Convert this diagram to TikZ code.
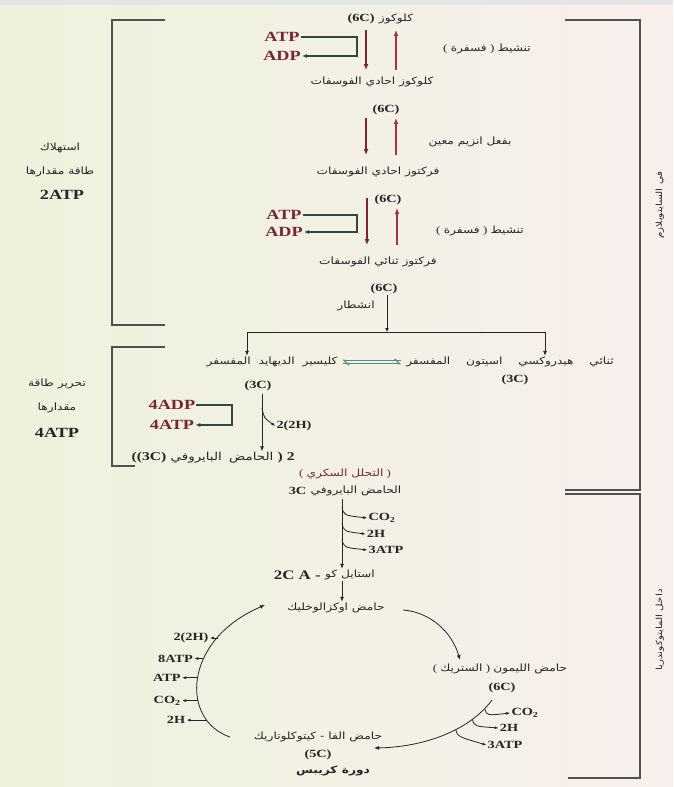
\documentclass[tikz,border=0pt]{standalone}
\usepackage{fontspec}
\setmainfont{Liberation Serif}[FakeStretch=1.3]
\newfontfamily\arabicfont[Script=Arabic,FakeStretch=1.22]{DejaVu Sans}
\TeXXeTstate=1
\usetikzlibrary{arrows.meta,positioning,calc}
\definecolor{ink}{HTML}{262626}
\definecolor{atpred}{HTML}{7A2434}
\definecolor{uparr}{HTML}{A5343F}
\definecolor{brkgrn}{HTML}{2E4A3C}
\definecolor{eqteal}{HTML}{4F8F7C}
\definecolor{bgleft}{HTML}{EDF2DC}
\definecolor{bgright}{HTML}{F8EFEC}
\newcommand{\artx}[1]{{\arabicfont\beginR #1\endR}}
\tikzset{
  ar/.style={font=\fontsize{10}{12}\selectfont, inner sep=1pt, text=ink},
  en/.style={font=\fontsize{14}{15}\selectfont\bfseries, inner sep=1pt, text=atpred},
  cc/.style={font=\fontsize{11}{12}\selectfont\bfseries, inner sep=1pt, text=ink},
  sm/.style={font=\fontsize{11}{12}\selectfont\bfseries, inner sep=1pt, text=ink},
  dn/.style={draw=atpred, line width=1.5pt, -{Latex[length=6pt,width=5pt]}},
  upa/.style={draw=uparr, line width=1.5pt, -{Latex[length=6pt,width=5pt]}},
  xch/.style={draw=brkgrn, line width=1.3pt, -{Latex[length=5pt,width=4pt]}},
  ln/.style={draw=ink, line width=0.8pt},
  tk/.style={ln, -{Latex[length=4pt,width=3pt]}},
  bkt/.style={draw=ink!80, line width=1.3pt}
}
\begin{document}
\begin{tikzpicture}[x=1pt,y=-1pt]
\useasboundingbox (0,0) rectangle (673,787);
\shade[left color=bgleft, right color=bgright] (0,0) rectangle (673,787);
\fill[black!10] (0,0) rectangle (673,5);

% brackets
\draw[bkt] (165,20) -- (112,20) -- (112,325) -- (165,325);
\draw[bkt] (165,347) -- (112,347) -- (112,466) -- (135,466);
\draw[bkt] (565,20) -- (640,20) -- (640,490) -- (565,490);
\draw[bkt] (565,494) -- (640,494) -- (640,778) -- (568,778);

% side labels
\node[ar] (use1) at (60,148) {\artx{استهلاك}};
\node[ar] (use2) at (60,172) {\artx{طاقة مقدارها}};
\node[en,text=ink] (use3) at (62,195) {2ATP};
\node[ar] (rel1) at (57,384) {\artx{تحرير طاقة}};
\node[ar] (rel2) at (57,408) {\artx{مقدارها}};
\node[en,text=ink] (rel3) at (57,433) {4ATP};
\node[ar,font=\fontsize{8.5}{10}\selectfont,rotate=90] (cyto) at (660,205) {\artx{في السايتوبلازم}};
\node[ar,font=\fontsize{8.5}{10}\selectfont,rotate=90] (mito) at (660,630) {\artx{داخل المايتوكوندريا}};

% glucose -> fructose bisphosphate
\node[ar] (glc) at (396,19) {\artx{كلوكوز}};
\node[cc,left=2pt of glc] (c1) {(6C)};
\node[en] (atp1) at (282,37) {ATP};
\node[en] (adp1) at (282,56) {ADP};
\coordinate (k1) at (357,37);
\draw[xch] (atp1.east) -| (k1) |- (adp1.east);
\coordinate (d1a) at (366,30); \coordinate (d1b) at (366,70);
\coordinate (u1a) at (396,70); \coordinate (u1b) at (396,30);
\draw[dn] (d1a) -- (d1b);
\draw[upa] (u1a) -- (u1b);
\node[ar] (act1) at (487,49) {( \artx{فسفرة} ) \artx{تنشيط}};
\node[ar] (g6p) at (372,82) {\artx{كلوكوز احادي الفوسفات}};

\node[cc] (c2) at (386,110) {(6C)};
\coordinate (d2a) at (366,118); \coordinate (d2b) at (366,155);
\coordinate (u2a) at (396,155); \coordinate (u2b) at (396,118);
\draw[dn] (d2a) -- (d2b);
\draw[upa] (u2a) -- (u2b);
\node[ar] (enz) at (470,142) {\artx{بفعل انزيم معين}};
\node[ar] (f6p) at (378,172) {\artx{فركتوز احادي الفوسفات}};

\node[cc] (c3) at (388,200) {(6C)};
\node[en] (atp2) at (284,215) {ATP};
\node[en] (adp2) at (284,232) {ADP};
\coordinate (k2) at (357,215);
\draw[xch] (atp2.east) -| (k2) |- (adp2.east);
\coordinate (d3a) at (367,198); \coordinate (d3b) at (367,245);
\coordinate (u3a) at (397,245); \coordinate (u3b) at (397,208);
\draw[dn] (d3a) -- (d3b);
\draw[upa] (u3a) -- (u3b);
\node[ar] (act2) at (480,231) {( \artx{فسفرة} ) \artx{تنشيط}};
\node[ar] (fbp) at (378,262) {\artx{فركتوز ثنائي الفوسفات}};

% splitting
\node[cc] (c4) at (384,289) {(6C)};
\node[ar] (split) at (356,306) {\artx{انشطار}};
\coordinate (sp) at (387,332);
\coordinate (hl) at (247,332);
\coordinate (hr) at (545,332);
\draw[ln,-{Latex[length=4pt,width=4pt]}] (c4.south -| sp) -- (sp);
\draw[ln] (hl) -- (hr);
\node[ar] (gal) at (272,362) {\artx{كليسير\hspace{4pt} الديهايد\hspace{4pt} المفسفر}};
\node[ar] (dhap) at (510,362) {\artx{ثنائي\hspace{12pt} هيدروكسي\hspace{12pt} اسيتون\hspace{12pt} المفسفر}};
\draw[ln,-{Latex[length=5pt,width=4pt]}] (hl) -- (gal.north -| hl);
\draw[ln,-{Latex[length=5pt,width=4pt]}] (hr) -- (dhap.north -| hr);
\draw[draw=eqteal,line width=1.2pt,shorten <=4pt,shorten >=4pt,-{Straight Barb[left,length=5pt]}] ([yshift=-1.8pt]gal.east) -- ([yshift=-1.8pt]dhap.west);
\draw[draw=eqteal,line width=1.2pt,shorten <=4pt,shorten >=4pt,-{Straight Barb[left,length=5pt]}] ([yshift=1.8pt]dhap.west) -- ([yshift=1.8pt]gal.east);
\node[cc] (c5) at (515,380) {(3C)};

% glyceraldehyde -> pyruvate
\node[cc] (c6) at (258,386) {(3C)};
\node[ar,font=\fontsize{11}{12}\selectfont] (pyr) at (222,458) {\artx{الحامض\hspace{3pt} البايروفي}};
\node[cc,font=\fontsize{12}{13}\selectfont\bfseries,left=2pt of pyr] (pyrL) {((3C)};
\node[cc,font=\fontsize{12}{13}\selectfont\bfseries,right=2pt of pyr] (pyrR) {) 2};
\coordinate (v3) at (262,394);
\coordinate (b3) at (262,408);
\draw[ln,-{Latex[length=5pt,width=4pt]}] (v3) -- (pyr.north -| v3);
\node[sm] (h2a) at (294,426) {2(2H)};
\draw[tk] (b3) .. controls +(2,10) .. (h2a.west);
\node[en] (adp3) at (172,405) {4ADP};
\node[en] (atp3) at (172,425) {4ATP};
\coordinate (k3) at (232,405);
\draw[xch] (adp3.east) -| (k3) |- (atp3.east);

% mitochondria
\node[ar,text=atpred] (glyc) at (345,474) {( \artx{التحلل السكري} )};
\node[ar] (pyr2) at (356,491) {\artx{الحامض البايروفي}};
\node[cc,left=2pt of pyr2] (p3c) {3C};
\node[ar] (acoa) at (350,575) {\artx{استايل كو}};
\node[cc,font=\fontsize{13}{14}\selectfont\bfseries,left=2pt of acoa] (acoaL) {2C A -};
\coordinate (vp) at (342,499);
\draw[ln,-{Latex[length=5pt,width=4pt]}] (vp) -- (acoa.north -| vp)
  coordinate[pos=0.12] (q1) coordinate[pos=0.35] (q2) coordinate[pos=0.58] (q3);
\node[sm] (co2a) at (382,518) {CO\textsubscript{2}};
\node[sm] (h2b) at (376,534) {2H};
\node[sm] (atp4) at (386,550) {3ATP};
\draw[tk] (q1) .. controls +(2,8) .. (co2a.west);
\draw[tk] (q2) .. controls +(2,8) .. (h2b.west);
\draw[tk] (q3) .. controls +(2,8) .. (atp4.west);
\node[ar] (oxa) at (336,608) {\artx{حامض اوكزالوخليك}};
\draw[ln,-{Latex[length=5pt,width=4pt]}] (acoa.south -| vp) -- (oxa.north -| vp);

% Krebs cycle
\node[ar] (cit) at (500,669) {( \artx{الستريك} ) \artx{حامض الليمون}};
\node[cc] (c7) at (502,688) {(6C)};
\node[ar] (akg) at (318,737) {\artx{حامض الفا - كيتوكلوتاريك}};
\node[cc] (c8) at (318,755) {(5C)};
\node[ar,font=\fontsize{10}{11}\selectfont\bfseries] (krebs) at (333,771) {\artx{دورة كريبس}};
\coordinate (kr0) at (403,610); \coordinate (kr1) at (460,660);
\draw[ln,-{Latex[length=5pt,width=4pt]}] (kr0) .. controls (430,612) and (452,632) .. (kr1);
\coordinate (kb0) at (492,700); \coordinate (kb1) at (374,748);
\draw[ln,-{Latex[length=5pt,width=4pt]}] (kb0) .. controls (470,730) and (425,747) .. (kb1)
  coordinate[pos=0.1] (bt1) coordinate[pos=0.24] (bt2) coordinate[pos=0.4] (bt3);
\node[sm] (co2b) at (525,713) {CO\textsubscript{2}};
\node[sm] (h2c) at (509,728) {2H};
\node[sm] (atp5) at (505,745) {3ATP};
\draw[tk] (bt1) .. controls +(2,7) .. (co2b.west);
\draw[tk] (bt2) .. controls +(2,7) .. (h2c.west);
\draw[tk] (bt3) .. controls +(2,7) .. (atp5.west);
\coordinate (kl0) at (230,737); \coordinate (kl1) at (265,605);
\draw[ln,-{Latex[length=5pt,width=4pt]}] (kl0) .. controls (180,720) and (183,640) .. (kl1)
  coordinate[pos=0.2] (kt5) coordinate[pos=0.35] (kt4) coordinate[pos=0.5] (kt3)
  coordinate[pos=0.62] (kt2) coordinate[pos=0.75] (kt1);
\draw[tk] (kt1) -- ++(-8,0) node[sm,anchor=east] (kh1) {2(2H)};
\draw[tk] (kt2) -- ++(-10,0) node[sm,anchor=east] (kh2) {8ATP};
\draw[tk] (kt3) -- ++(-16,0) node[sm,anchor=east] (kh3) {ATP};
\draw[tk] (kt4) -- ++(-16,0) node[sm,anchor=east] (kh4) {CO\textsubscript{2}};
\draw[tk] (kt5) -- ++(-20,0) node[sm,anchor=east] (kh5) {2H};
\end{tikzpicture}
\end{document}
